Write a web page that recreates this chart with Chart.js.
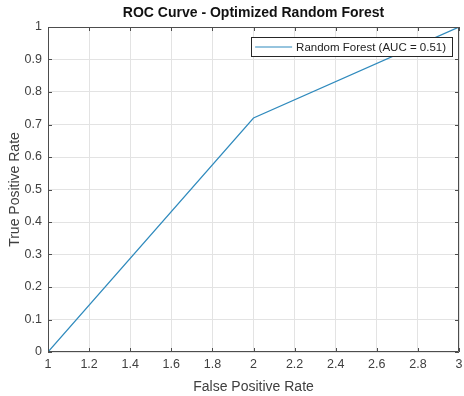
<!DOCTYPE html>
<html>
<head>
<meta charset="utf-8">
<script src="https://cdn.jsdelivr.net/npm/chart.js@4"></script>
<style>
  html, body { margin: 0; padding: 0; background: #fff; }
  #wrap { width: 464px; height: 396px; }
</style>
</head>
<body>
<div id="wrap"><canvas id="roc"></canvas></div>
<script>
const fpr = [1, 2, 3];
const tpr = [0, 0.72, 1];
const seriesLabel = 'Random Forest (AUC = 0.51)';
const xTicks = [1, 1.2, 1.4, 1.6, 1.8, 2, 2.2, 2.4, 2.6, 2.8, 3];
const yTicks = [0, 0.1, 0.2, 0.3, 0.4, 0.5, 0.6, 0.7, 0.8, 0.9, 1];

const lineColor = '#2f8abd';
const axisColor = '#4d4d4d';
const textColor = '#3f3f3f';
const fontFamily = '"Liberation Sans", Arial, sans-serif';

let points = [];
for (let i = 0; i < fpr.length; i++) {
    points.push({x: fpr[i], y: tpr[i]});
}

// box round the plot + inward ticks, matlab style
const axesBox = {
    id: 'axesBox',
    afterDatasetsDraw(chart) {
        const {ctx, chartArea: a, scales: {x, y}} = chart;
        ctx.save();
        ctx.strokeStyle = axisColor;
        ctx.lineWidth = 1;
        ctx.beginPath();
        ctx.rect(a.left + 0.5, a.top + 0.5, a.right - a.left - 1, a.bottom - a.top - 1);
        const len = 4;
        xTicks.forEach(v => {
            const px = Math.round(x.getPixelForValue(v)) + 0.5;
            ctx.moveTo(px, a.bottom); ctx.lineTo(px, a.bottom - len);
            ctx.moveTo(px, a.top); ctx.lineTo(px, a.top + len);
        });
        yTicks.forEach(v => {
            const py = Math.round(y.getPixelForValue(v)) + 0.5;
            ctx.moveTo(a.left, py); ctx.lineTo(a.left + len, py);
            ctx.moveTo(a.right, py); ctx.lineTo(a.right - len, py);
        });
        ctx.stroke();
        ctx.restore();
    }
};

// legend box in the top right corner
const insideLegend = {
    id: 'insideLegend',
    afterDraw(chart) {
        const {ctx, chartArea: a} = chart;
        const ds = chart.data.datasets[0];
        ctx.save();
        ctx.font = '11.5px ' + fontFamily;
        const tw = ctx.measureText(ds.label).width;
        const sample = 37;
        const w = 4 + sample + 4 + tw + 6;
        const h = 19;
        const right = a.right - 7;
        const left = right - w;
        const top = a.top + 10;
        ctx.fillStyle = '#fff';
        ctx.fillRect(left, top, w, h);
        ctx.strokeStyle = '#262626';
        ctx.lineWidth = 1;
        ctx.strokeRect(Math.round(left) + 0.5, top + 0.5, Math.round(w), h);
        ctx.strokeStyle = ds.borderColor;
        ctx.lineWidth = 1.2;
        ctx.beginPath();
        ctx.moveTo(left + 4, top + h / 2 + 0.5);
        ctx.lineTo(left + 4 + sample, top + h / 2 + 0.5);
        ctx.stroke();
        ctx.fillStyle = '#222';
        ctx.textBaseline = 'middle';
        ctx.fillText(ds.label, left + 4 + sample + 4, top + h / 2 + 1);
        ctx.restore();
    }
};

new Chart(document.getElementById('roc'), {
    type: 'line',
    data: {
        datasets: [{
            label: seriesLabel,
            data: points,
            borderColor: lineColor,
            borderWidth: 1.2,
            pointRadius: 0,
            fill: false,
            tension: 0
        }]
    },
    options: {
        responsive: true,
        maintainAspectRatio: false,
        animation: false,
        layout: { padding: { left: 0, right: 5, top: 0, bottom: 0 } },
        plugins: {
            legend: { display: false },
            tooltip: { enabled: false },
            title: {
                display: true,
                text: 'ROC Curve - Optimized Random Forest',
                fullSize: false,
                color: '#111',
                font: { family: fontFamily, size: 14, weight: 'bold' },
                padding: { top: 5, bottom: 5.2 }
            }
        },
        scales: {
            x: {
                type: 'linear',
                min: 1,
                max: 3,
                afterBuildTicks: s => { s.ticks = xTicks.map(v => ({value: v})); },
                afterFit: s => { s.height = 44; s.paddingRight = 0; s.paddingLeft = 0; },
                grid: { color: '#e3e3e3', drawTicks: false },
                border: { display: false },
                ticks: {
                    padding: 5,
                    color: textColor,
                    font: { family: fontFamily, size: 12.5 },
                    maxRotation: 0,
                    callback: v => String(Math.round(v * 10) / 10)
                },
                title: {
                    display: true,
                    text: 'False Positive Rate',
                    color: textColor,
                    font: { family: fontFamily, size: 14 },
                    padding: { top: 13, bottom: 0 }
                }
            },
            y: {
                type: 'linear',
                min: 0,
                max: 1,
                afterBuildTicks: s => { s.ticks = yTicks.map(v => ({value: v})); },
                afterFit: s => { s.width = 48; },
                grid: { color: '#e3e3e3', drawTicks: false },
                border: { display: false },
                ticks: {
                    padding: 6,
                    color: textColor,
                    font: { family: fontFamily, size: 12.5 },
                    callback: v => String(Math.round(v * 10) / 10)
                },
                title: {
                    display: true,
                    text: 'True Positive Rate',
                    color: textColor,
                    font: { family: fontFamily, size: 14 },
                    padding: { top: 7, bottom: 0 }
                }
            }
        }
    },
    plugins: [axesBox, insideLegend]
});
</script>
</body>
</html>
